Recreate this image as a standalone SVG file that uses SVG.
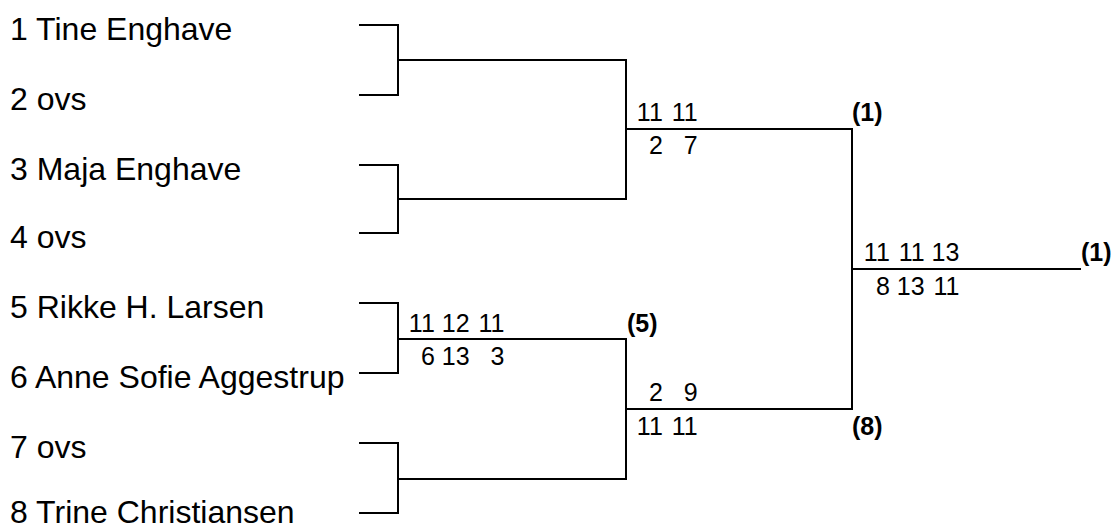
<svg xmlns="http://www.w3.org/2000/svg" width="1117" height="530" viewBox="0 0 1117 530">
<style>
.name{font-family:"Liberation Sans",Arial,sans-serif;font-size:32px;fill:#000}
.sc{font-family:"Liberation Sans",Arial,sans-serif;font-size:25px;fill:#000;text-anchor:end}
.seed{font-family:"Liberation Sans",Arial,sans-serif;font-size:25px;font-weight:bold;fill:#000}
.ln{fill:none;stroke:#000;stroke-width:2;stroke-linecap:square}
</style>
<rect width="1117" height="530" fill="#fff"/>
<g id="connectors" class="ln">
<path d="M360,25 H398 V95 H360 M398,60 H626"/>
<path d="M360,165 H398 V233 H360 M398,199 H626"/>
<path d="M360,303 H398 V373 H360 M398,339 H626"/>
<path d="M360,443 H398 V513 H360 M398,479 H626"/>
<path d="M626,60 V199 M626,129 H852"/>
<path d="M626,339 V479 M626,409 H852"/>
<path d="M852,129 V409 M852,269 H1080"/>
</g>
<g id="p1"><text class="name" x="10" y="40">1 Tine Enghave</text></g>
<g id="p2"><text class="name" x="10" y="110">2 ovs</text></g>
<g id="p3"><text class="name" x="10" y="180">3 Maja Enghave</text></g>
<g id="p4"><text class="name" x="10" y="248">4 ovs</text></g>
<g id="p5"><text class="name" x="10" y="318">5 Rikke H. Larsen</text></g>
<g id="p6"><text class="name" x="10" y="388">6 Anne Sofie Aggestrup</text></g>
<g id="p7"><text class="name" x="10" y="458">7 ovs</text></g>
<g id="p8"><text class="name" x="10" y="523">8 Trine Christiansen</text></g>
<g id="m_r1_3">
<text class="sc" x="434.8" y="332">11</text><text class="sc" x="469.6" y="332">12</text><text class="sc" x="504.4" y="332">11</text>
<text class="sc" x="434.8" y="365">6</text><text class="sc" x="469.6" y="365">13</text><text class="sc" x="504.4" y="365">3</text>
<text class="seed" x="627" y="332">(5)</text>
</g>
<g id="m_sf_1">
<text class="sc" x="662.8" y="121">11</text><text class="sc" x="697.6" y="121">11</text>
<text class="sc" x="662.8" y="154">2</text><text class="sc" x="697.6" y="154">7</text>
<text class="seed" x="852" y="121">(1)</text>
</g>
<g id="m_sf_2">
<text class="sc" x="662.8" y="401">2</text><text class="sc" x="697.6" y="401">9</text>
<text class="sc" x="662.8" y="435">11</text><text class="sc" x="697.6" y="435">11</text>
<text class="seed" x="852" y="435">(8)</text>
</g>
<g id="m_final">
<text class="sc" x="889.8" y="261">11</text><text class="sc" x="924.6" y="261">11</text><text class="sc" x="959.4" y="261">13</text>
<text class="sc" x="889.8" y="295">8</text><text class="sc" x="924.6" y="295">13</text><text class="sc" x="959.4" y="295">11</text>
<text class="seed" x="1081" y="261">(1)</text>
</g>
</svg>
